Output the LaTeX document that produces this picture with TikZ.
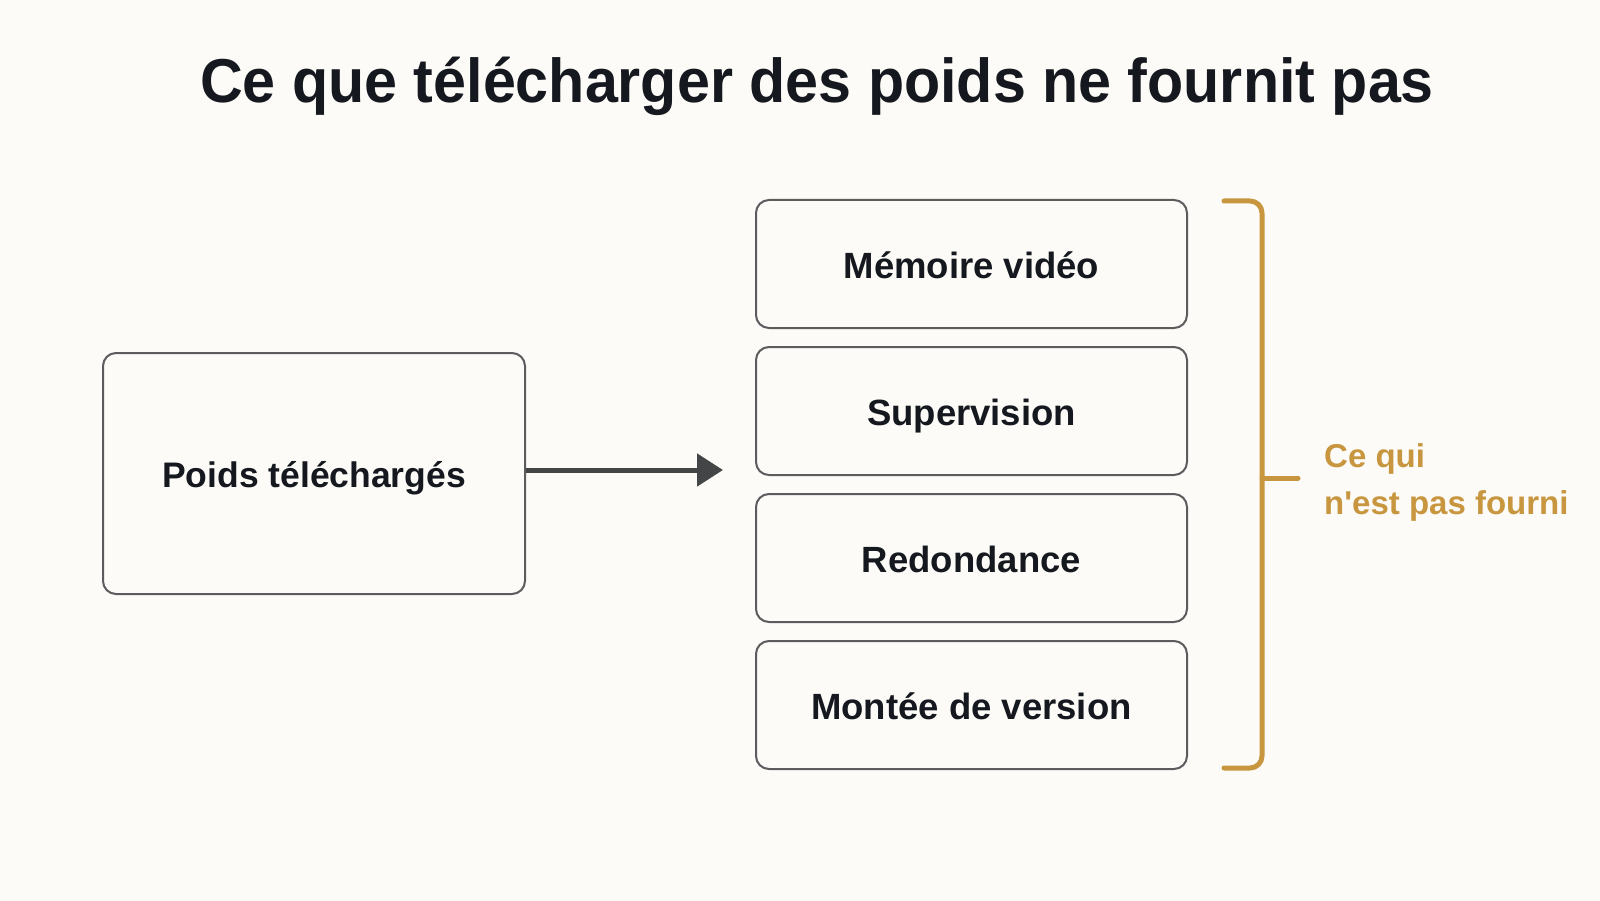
\documentclass[tikz,border=0pt]{standalone}
\usepackage{fontspec}
\setmainfont{Liberation Sans}
\usetikzlibrary{arrows.meta}
\definecolor{bg}{HTML}{FCFBF7}
\definecolor{ink}{HTML}{15181E}
\definecolor{edge}{HTML}{5C5C5E}
\definecolor{arrowc}{HTML}{444547}
\definecolor{gold}{HTML}{C8963E}
\begin{document}
\begin{tikzpicture}[x=1pt,y=-1pt,
  boxitem/.style={draw=edge, line width=2pt, rounded corners=13pt, fill=bg,
    minimum width=431pt, minimum height=128pt, inner sep=0pt,
    text height=29pt, text depth=0pt,
    font=\fontsize{36.5}{40}\selectfont\bfseries, text=ink},
  srcbox/.style={draw=edge, line width=2pt, rounded corners=13pt, fill=bg,
    minimum width=422pt, minimum height=241pt, inner sep=0pt,
    text height=27pt, text depth=0pt,
    font=\fontsize{35.5}{40}\selectfont\bfseries, text=ink},
  flow/.style={draw=arrowc, line width=5pt, -{Triangle[length=26pt,width=32pt]}},
  bracketline/.style={draw=gold, line width=5pt, line cap=round, line join=round},
  goldtext/.style={anchor=base west, font=\fontsize{33}{38}\selectfont\bfseries, text=gold, inner sep=0pt}
]
\fill[bg] (0,0) rectangle (1600,901);
\useasboundingbox (0,0) rectangle (1600,901);

\node[anchor=base, font=\fontsize{62}{68}\selectfont\bfseries, text=ink, inner sep=0pt]
  (title) at (817,103) {\scalebox{0.955}[1]{Ce que télécharger des poids ne fournit pas}};

\node[srcbox] (src) at (314,473.5) {Poids téléchargés};

\node[boxitem] (b1) at (971.5,264) {Mémoire vidéo};
\node[boxitem] (b2) at (971.5,411) {Supervision};
\node[boxitem] (b3) at (971.5,558) {Redondance};
\node[boxitem] (b4) at (971.5,705) {Montée de version};

\coordinate (tip) at (723,470);
\draw[flow] (src.east |- tip) -- (tip);

\coordinate (brtop) at (1224,201);
\coordinate (brtopc) at (1262,201);
\coordinate (brbotc) at (1262,768);
\coordinate (brbot) at (1224,768);
\coordinate (brmid) at (1262,478);
\coordinate (brtick) at (1298,478);
\draw[bracketline, rounded corners=12pt] (brtop) -- (brtopc) -- (brbotc) -- (brbot);
\draw[bracketline] (brmid) -- (brtick);

\node[goldtext] (lab1) at (1324,467) {Ce qui};
\node[goldtext] (lab2) at (1324,514) {n\textquotesingle est pas fourni};
\end{tikzpicture}
\end{document}
